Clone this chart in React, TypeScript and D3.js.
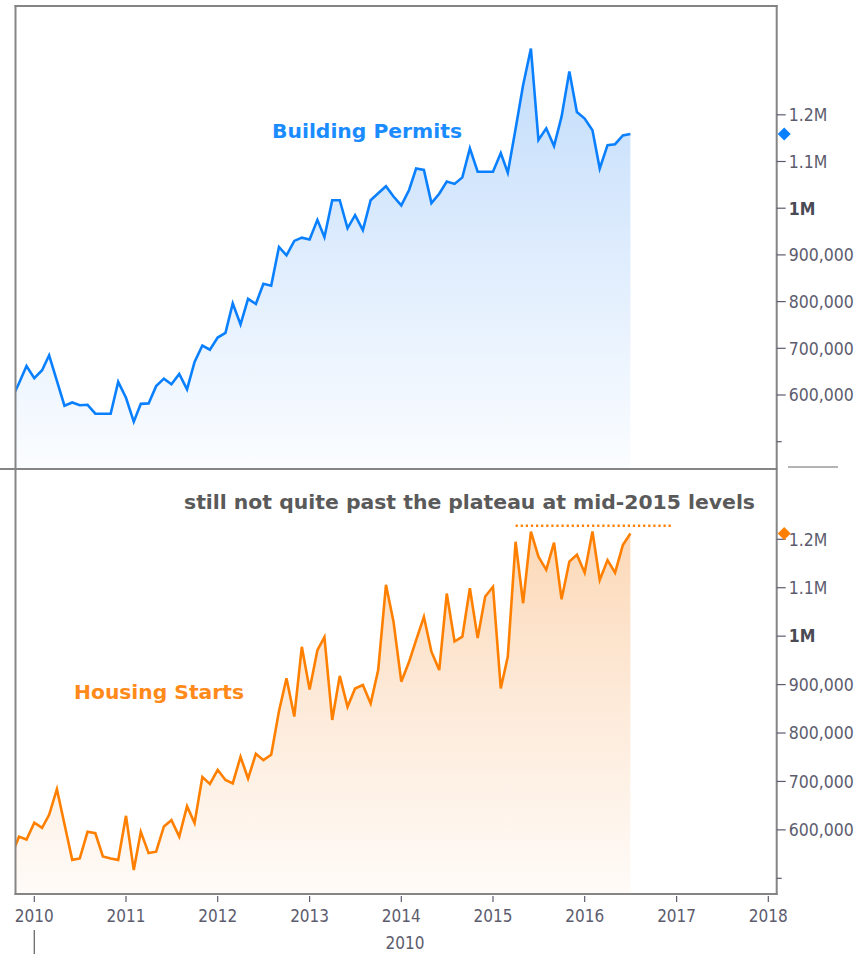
import React from "react";
import * as d3 from "d3";

// ---- Data (thousands of units, SAAR), monthly from Oct 2009 to Jul 2016 ----
const startYear = 2009;
const startMonth = 9; // October (0-based)

const buildingPermits = [
  590, 625, 662,
  636, 653, 685, 630, 577, 584, 578, 579, 560, 560, 560, 628,
  594, 543, 581, 582, 619, 635, 623, 645, 612, 671, 706, 697,
  723, 733, 796, 751, 806, 795, 838, 834, 917, 899, 930, 937,
  933, 975, 938, 1017, 1017, 957, 985, 953, 1017, 1032, 1047, 1025,
  1006, 1039, 1085, 1082, 1011, 1031, 1057, 1052, 1066, 1128, 1078, 1078,
  1078, 1118, 1076, 1170, 1264, 1342, 1146, 1171, 1133, 1196, 1293, 1206,
  1192, 1167, 1085, 1135, 1137, 1156, 1159,
];

const housingStarts = [
  545, 586, 580,
  615, 604, 631, 684, 612, 538, 541, 596, 593, 545, 541, 538,
  629, 517, 596, 552, 555, 607, 620, 586, 649, 614, 709, 695,
  724, 703, 696, 751, 706, 757, 744, 755, 845, 913, 834, 978,
  890, 971, 998, 827, 918, 854, 892, 899, 861, 930, 1106, 1030,
  906, 947, 992, 1040, 968, 930, 1088, 989, 999, 1099, 996, 1082,
  1102, 892, 958, 1195, 1068, 1216, 1164, 1137, 1193, 1076, 1154, 1168,
  1131, 1216, 1116, 1157, 1131, 1188, 1212,
];

const yTickValues = [600000, 700000, 800000, 900000, 1000000, 1100000, 1200000];
const yTickLabels = ["600,000", "700,000", "800,000", "900,000", "1M", "1.1M", "1.2M"];
const yMinorTicks = [500000];
const xTickYears = [2010, 2011, 2012, 2013, 2014, 2015, 2016, 2017, 2018];
const plateauLevel = 1228000;
const plateauStart = new Date(2015, 3, 1);
const plateauEnd = new Date(2016, 11, 10);

const permitsLabel = "Building Permits";
const startsLabel = "Housing Starts";
const annotation = "still not quite past the plateau at mid-2015 levels";
const extraLabel = "2010";

const dates = buildingPermits.map((_, i) => new Date(startYear, startMonth + i, 1));

const W = 861;
const H = 954;
const LEFT = 15.5;
const RIGHT = 776.7;
const TOP1 = 6;
const MID = 469;
const BOT2 = 894;

const AXIS_FONT = "'DejaVu Sans Condensed', 'DejaVu Sans', Verdana, sans-serif";
const AXIS_COLOR = "#5c5c6e";
const FRAME = "#858585";

const x = d3
  .scaleTime()
  .domain([new Date(2010, 0, 1), new Date(2018, 0, 1)])
  .range([34.3, 768.3]);

const yTop = d3.scaleLinear().domain([500000, 1200000]).range([441.7, 114.8]);
const yBot = d3.scaleLinear().domain([500000, 1200000]).range([878.3, 539.3]);

type PanelProps = {
  values: number[];
  y: d3.ScaleLinear<number, number>;
  bottom: number;
  top: number;
  color: string;
  gradId: string;
  clipId: string;
};

function Series({ values, y, bottom, top, color, gradId, clipId }: PanelProps) {
  const pts = values.map((v, i) => [x(dates[i]), y(v * 1000)] as [number, number]);
  const line = d3.line<[number, number]>().x((d) => d[0]).y((d) => d[1])(pts) || "";
  const area =
    d3
      .area<[number, number]>()
      .x((d) => d[0])
      .y0(bottom)
      .y1((d) => d[1])(pts) || "";
  return (
    <g clipPath={`url(#${clipId})`}>
      <path d={area} fill={`url(#${gradId})`} />
      <path d={line} fill="none" stroke={color} strokeWidth={2.6} strokeLinejoin="miter" />
    </g>
  );
}

function RightAxis({
  y,
  markerValue,
  markerColor,
}: {
  y: d3.ScaleLinear<number, number>;
  markerValue: number;
  markerColor: string;
}) {
  const my = y(markerValue);
  return (
    <g>
      {yTickValues.map((v, i) => {
        const ty = y(v);
        let ly = ty;
        if (Math.abs(ty - my) < 8) ly = my + 6;
        const bold = yTickLabels[i] === "1M";
        return (
          <g key={v}>
            <line x1={RIGHT} x2={RIGHT + 9} y1={ty} y2={ty} stroke={AXIS_COLOR} strokeWidth={1.2} />
            <text
              x={RIGHT + 12}
              y={ly}
              dy="0.36em"
              fontFamily={AXIS_FONT}
              fontSize={17.5}
              fontWeight={bold ? "bold" : "normal"}
              fill={bold ? "#4a4a55" : AXIS_COLOR}
            >
              {yTickLabels[i]}
            </text>
          </g>
        );
      })}
      {yMinorTicks.map((v) => (
        <line key={v} x1={RIGHT} x2={RIGHT + 5} y1={y(v)} y2={y(v)} stroke={AXIS_COLOR} strokeWidth={1.2} />
      ))}
      <path
        d={`M${RIGHT + 7.5},${my - 6.5} L${RIGHT + 14},${my} L${RIGHT + 7.5},${my + 6.5} L${RIGHT + 1},${my} Z`}
        fill={markerColor}
      />
    </g>
  );
}

export default function App() {
  const lastP = buildingPermits[buildingPermits.length - 1] * 1000;
  const lastS = housingStarts[housingStarts.length - 1] * 1000;
  return (
    <svg
      width={W}
      height={H}
      viewBox={`0 0 ${W} ${H}`}
      style={{ position: "absolute", left: 0, top: 0, background: "#fff" }}
    >
      <defs>
        <clipPath id="clipTop">
          <rect x={LEFT} y={TOP1} width={RIGHT - LEFT} height={MID - TOP1} />
        </clipPath>
        <clipPath id="clipBot">
          <rect x={LEFT} y={MID} width={RIGHT - LEFT} height={BOT2 - MID} />
        </clipPath>
        <linearGradient id="gradBlue" gradientUnits="userSpaceOnUse" x1="0" y1="45" x2="0" y2={MID}>
          <stop offset="0" stopColor="#c0dcfb" />
          <stop offset="0.45" stopColor="#dcebfd" />
          <stop offset="1" stopColor="#fbfdff" />
        </linearGradient>
        <linearGradient id="gradOrange" gradientUnits="userSpaceOnUse" x1="0" y1="525" x2="0" y2={BOT2}>
          <stop offset="0" stopColor="#fcd8b6" />
          <stop offset="0.45" stopColor="#fde9d7" />
          <stop offset="1" stopColor="#fffbf8" />
        </linearGradient>
      </defs>

      <Series
        values={buildingPermits}
        y={yTop}
        bottom={MID}
        top={TOP1}
        color="#0a80ff"
        gradId="gradBlue"
        clipId="clipTop"
      />
      <Series
        values={housingStarts}
        y={yBot}
        bottom={BOT2}
        top={MID}
        color="#ff8000"
        gradId="gradOrange"
        clipId="clipBot"
      />

      {/* plateau dotted line */}
      <line
        x1={x(plateauStart)}
        x2={x(plateauEnd)}
        y1={yBot(plateauLevel)}
        y2={yBot(plateauLevel)}
        stroke="#ff8000"
        strokeWidth={2.6}
        strokeDasharray="2.2,2.9"
      />

      {/* frames */}
      <line x1={LEFT} x2={LEFT} y1={TOP1 - 1} y2={BOT2 + 1} stroke={FRAME} strokeWidth={2} />
      <line x1={LEFT - 1} x2={RIGHT + 1} y1={TOP1} y2={TOP1} stroke={FRAME} strokeWidth={2} />
      <line x1={0} x2={RIGHT + 1} y1={MID} y2={MID} stroke={FRAME} strokeWidth={2} />
      <line x1={LEFT - 1} x2={RIGHT + 1} y1={BOT2} y2={BOT2} stroke={FRAME} strokeWidth={2} />
      <line x1={RIGHT} x2={RIGHT} y1={TOP1 - 1} y2={BOT2 + 1} stroke={FRAME} strokeWidth={2} />
      <line x1={788} x2={838} y1={467} y2={467} stroke="#b4b4b4" strokeWidth={2} />

      <RightAxis y={yTop} markerValue={lastP} markerColor="#0a80ff" />
      <RightAxis y={yBot} markerValue={lastS} markerColor="#ff8000" />

      {/* bottom x axis */}
      {xTickYears.map((yr) => {
        const tx = x(new Date(yr, 0, 1));
        return (
          <g key={yr}>
            <line x1={tx} x2={tx} y1={BOT2 + 2} y2={BOT2 + 8} stroke={AXIS_COLOR} strokeWidth={1.2} />
            <text
              x={tx}
              y={922}
              textAnchor="middle"
              fontFamily={AXIS_FONT}
              fontSize={17}
              fill={AXIS_COLOR}
            >
              {yr}
            </text>
          </g>
        );
      })}
      <line
        x1={x(new Date(2010, 0, 1))}
        x2={x(new Date(2010, 0, 1))}
        y1={930}
        y2={H}
        stroke="#6a6a6a"
        strokeWidth={1.3}
      />
      <text x={405} y={949} textAnchor="middle" fontFamily={AXIS_FONT} fontSize={17} fill={AXIS_COLOR}>
        {extraLabel}
      </text>

      {/* series labels */}
      <text
        x={272}
        y={138}
        fontFamily={AXIS_FONT}
        fontWeight="bold"
        fontSize={20}
        fill="#1a8cff"
        textLength={190}
        lengthAdjust="spacingAndGlyphs"
      >
        {permitsLabel}
      </text>
      <text
        x={74}
        y={699}
        fontFamily={AXIS_FONT}
        fontWeight="bold"
        fontSize={20}
        fill="#ff8a1a"
        textLength={170}
        lengthAdjust="spacingAndGlyphs"
      >
        {startsLabel}
      </text>
      <text
        x={184}
        y={509}
        fontFamily={AXIS_FONT}
        fontWeight="bold"
        fontSize={20}
        fill="#5a5a5a"
        textLength={571}
        lengthAdjust="spacingAndGlyphs"
      >
        {annotation}
      </text>
    </svg>
  );
}
